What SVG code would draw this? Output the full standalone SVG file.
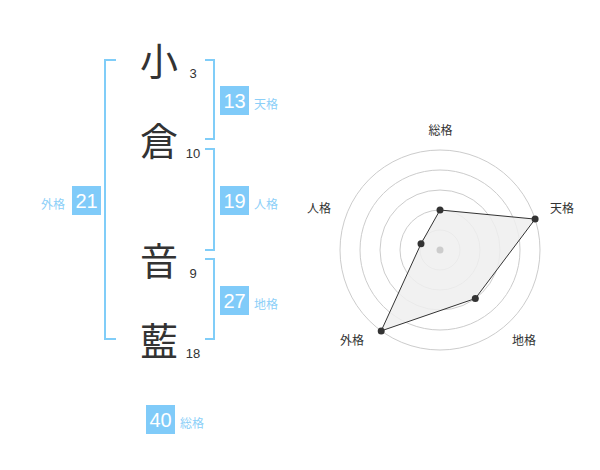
<svg xmlns="http://www.w3.org/2000/svg" width="600" height="470" viewBox="0 0 600 470">
<style>
.bg{fill:#fff}
.kanji{font-family:"Noto Sans CJK JP","Noto Sans CJK SC",sans-serif;font-size:38px;fill:#333;text-anchor:middle}
.num{font-family:"Liberation Sans",Arial,sans-serif;font-size:13px;fill:#333;text-anchor:middle}
.br{fill:none;stroke:#80cdf8;stroke-width:2}
.box{fill:#80cbf9}
.bnum{font-family:"Liberation Sans",Arial,sans-serif;font-size:20px;fill:#fff;text-anchor:middle}
.blab{font-family:"Noto Sans CJK JP","Noto Sans CJK SC",sans-serif;font-size:12px;fill:#8ccff8}
.ring{fill:none;stroke:#ccc;stroke-width:1}
.rlab{font-family:"Noto Sans CJK JP","Noto Sans CJK SC",sans-serif;font-size:12px;fill:#333;text-anchor:middle}
.pt{fill:#333}
</style>
<rect class="bg" x="0" y="0" width="600" height="470"/>
<g id="connectors">
<path class="br" d="M116,60 H105 V339 H116"/>
<path class="br" d="M205,60 H214 V139 H205"/>
<path class="br" d="M205,149 H214 V250 H205"/>
<path class="br" d="M205,259 H214 V339 H205"/>
</g>
<g id="char1"><text class="kanji" x="159" y="75">小</text><text class="num" x="193" y="78">3</text></g>
<g id="char2"><text class="kanji" x="159" y="155">倉</text><text class="num" x="193" y="158">10</text></g>
<g id="char3"><text class="kanji" x="159" y="275">音</text><text class="num" x="193" y="278">9</text></g>
<g id="char4"><text class="kanji" x="159" y="355">藍</text><text class="num" x="193" y="358">18</text></g>
<g id="tenkaku"><rect class="box" x="220" y="86" width="29" height="29"/><text class="bnum" x="234.5" y="108">13</text><text class="blab" x="254" y="108.5">天格</text></g>
<g id="jinkaku"><rect class="box" x="220" y="186" width="29" height="29"/><text class="bnum" x="234.5" y="208">19</text><text class="blab" x="254" y="209">人格</text></g>
<g id="chikaku"><rect class="box" x="220" y="286" width="29" height="29"/><text class="bnum" x="234.5" y="308">27</text><text class="blab" x="254" y="309">地格</text></g>
<g id="gaikaku"><rect class="box" x="72" y="186" width="29" height="29"/><text class="bnum" x="86.5" y="208">21</text><text class="blab" x="65" y="209" text-anchor="end">外格</text></g>
<g id="soukaku"><rect class="box" x="146" y="405" width="29" height="29"/><text class="bnum" x="160.5" y="427">40</text><text class="blab" x="180" y="428">総格</text></g>
<g id="radar">
<circle class="ring" cx="440" cy="250" r="20"/>
<circle class="ring" cx="440" cy="250" r="40"/>
<circle class="ring" cx="440" cy="250" r="60"/>
<circle class="ring" cx="440" cy="250" r="80"/>
<circle class="ring" cx="440" cy="250" r="100"/>
<polygon points="440,210 535.1,219.1 475.3,298.5 381.2,330.9 421,243.8" fill="#efefef" fill-opacity="0.85" stroke="#333" stroke-width="1"/>
<circle cx="440" cy="250" r="3.5" fill="#ccc"/>
<circle class="pt" cx="440" cy="210" r="3.5"/>
<circle class="pt" cx="535.1" cy="219.1" r="3.5"/>
<circle class="pt" cx="475.3" cy="298.5" r="3.5"/>
<circle class="pt" cx="381.2" cy="330.9" r="3.5"/>
<circle class="pt" cx="421" cy="243.8" r="3.5"/>
<text class="rlab" x="440.5" y="134.5">総格</text>
<text class="rlab" x="562" y="212.5">天格</text>
<text class="rlab" x="524" y="345">地格</text>
<text class="rlab" x="352" y="345">外格</text>
<text class="rlab" x="319" y="212.5">人格</text>
</g>
</svg>
